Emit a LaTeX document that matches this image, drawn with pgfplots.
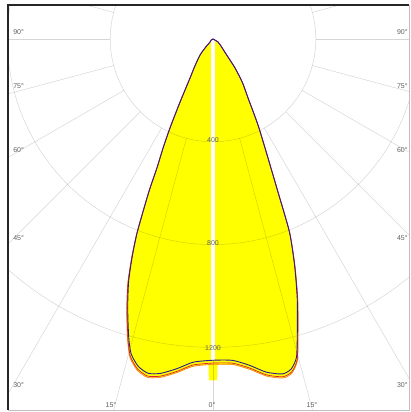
\documentclass[border=0pt]{standalone}
\usepackage{fontspec}
\setmainfont{Liberation Sans}
\usepackage{pgfplots}
\usepackage{pgfplotstable}
\pgfplotsset{compat=1.18}
\definecolor{lyellow}{RGB}{255,255,0}
\definecolor{navyc}{RGB}{45,30,140}
\definecolor{redc}{RGB}{225,30,40}
\definecolor{orangec}{RGB}{245,140,30}
\definecolor{labc}{RGB}{95,95,95}

% gamma (deg, negative = left half), intensity (cd)
\pgfplotstableread{
g I
-90 0
-60 8
-45 16
-41.6 47
-39 80
-34 125
-30.5 176
-27.6 277
-25.8 385
-24.6 467
-23.5 547
-22.9 630
-22.3 698
-21.4 808
-20.4 900
-19.2 998
-17.6 1098
-15.8 1205
-14.6 1265
-12.9 1306
-11.0 1325
-8.9 1317
-6.2 1290
-3.5 1260
0 1250
3.5 1253
6.4 1278
9.1 1313
11.7 1331
13.3 1320
14.7 1280
16.1 1183
18.0 1060
19.8 937
21.6 808
23.0 647
24.8 510
27.6 378
30.7 267
34 205
37.2 142
41 77
50 38
59 23
90 0
}\curveA

\pgfplotstableread{
g I
-90 0
-60 8
-45 16
-41.6 47
-39 80
-34 125
-30.5 176
-27.6 277
-25.8 385
-24.6 467
-23.5 547
-22.9 630
-22.3 698
-21.4 812
-20.4 906
-19.2 1006
-17.6 1107
-15.8 1215
-14.6 1276
-12.9 1317
-11.0 1336
-8.9 1328
-6.2 1301
-3.5 1271
0 1261
3.5 1264
6.4 1289
9.1 1324
11.7 1342
13.3 1331
14.7 1290
16.1 1191
18.0 1066
19.8 941
21.6 810
23.0 647
24.8 510
27.6 378
30.7 267
34 205
37.2 142
41 77
50 38
59 23
90 0
}\curveB

\pgfplotstableread{
g I
-90 0
-60 8
-45 16
-41.6 47
-39 80
-34 125
-30.5 176
-27.6 277
-25.8 385
-24.6 467
-23.5 547
-22.9 630
-22.3 698
-21.4 813
-20.4 908
-19.2 1009
-17.6 1111
-15.8 1220
-14.6 1281
-12.9 1322
-11.0 1341
-8.9 1333
-6.2 1306
-3.5 1276
0 1266
3.5 1269
6.4 1294
9.1 1329
11.7 1347
13.3 1336
14.7 1294
16.1 1193
18.0 1067
19.8 942
21.6 810
23.0 647
24.8 510
27.6 378
30.7 267
34 205
37.2 142
41 77
50 38
59 23
90 0
}\curveC

\pgfplotstableread{
g I
-90 0
-60 8
-45 16
-41.6 47
-39 80
-34 125
-30.5 176
-27.6 277
-25.8 385
-24.6 467
-23.5 547
-22.9 630
-22.3 698
-21.4 813
-20.4 908
-19.2 1009
-17.6 1111
-15.8 1220
-14.6 1281
-12.9 1322
-11.0 1341
-8.9 1333
-6.2 1306
-3.5 1276
-0.8 1267
-0.7 1328
0.7 1328
0.8 1267
3.5 1269
6.4 1294
9.1 1329
11.7 1347
13.3 1336
14.7 1294
16.1 1193
18.0 1067
19.8 942
21.6 810
23.0 647
24.8 510
27.6 378
30.7 267
34 205
37.2 142
41 77
50 38
59 23
90 0
}\fillC

\tikzset{gridl/.style={black, opacity=0.16, line width=0.5pt}}

\begin{document}
\begin{tikzpicture}
\begin{axis}[
  scale only axis, width=401pt, height=405pt,
  xmin=-797.7, xmax=762.6, ymin=-1443.6, ymax=132.3,
  hide axis,
  clip=true,
]
\addplot[fill=lyellow, draw=none, data cs=polar] table[x expr=\thisrow{g}+270, y=I] {\fillC} -- cycle;
\draw[gridl] (axis cs:0,0) circle[radius=400];
\draw[gridl] (axis cs:0,0) circle[radius=800];
\draw[gridl] (axis cs:0,0) circle[radius=1200];
\pgfplotsinvokeforeach{0,15,...,345}{
  \addplot[gridl, data cs=polar] coordinates {(#1,400) (#1,2400)};
}
\addplot[white, line width=4.5pt, data cs=polar] coordinates {(270,0) (270,1250)};
\addplot[orangec, line width=0.8pt, smooth, tension=0.4, data cs=polar] table[x expr=\thisrow{g}+270, y=I] {\curveC};
\addplot[redc, line width=0.7pt, smooth, tension=0.4, data cs=polar] table[x expr=\thisrow{g}+270, y=I] {\curveB};
\addplot[navyc, line width=0.9pt, smooth, tension=0.4, data cs=polar] table[x expr=\thisrow{g}+270, y=I] {\curveA};

\begin{scope}[font=\fontsize{7}{8}\selectfont, text=labc, inner sep=0pt]
\node[anchor=west] at (axis cs:-778,27) {90°};
\node[anchor=west] at (axis cs:-778,-183) {75°};
\node[anchor=west] at (axis cs:-778,-432) {60°};
\node[anchor=west] at (axis cs:-778,-774) {45°};
\node[anchor=west] at (axis cs:-778,-1346) {30°};
\node[anchor=east] at (axis cs:758,27) {90°};
\node[anchor=east] at (axis cs:758,-183) {75°};
\node[anchor=east] at (axis cs:758,-432) {60°};
\node[anchor=east] at (axis cs:758,-774) {45°};
\node[anchor=east] at (axis cs:758,-1346) {30°};
\node at (axis cs:-397,-1424) {15°};
\node at (axis cs:-4,-1424) {0°};
\node at (axis cs:385,-1424) {15°};
\node at (axis cs:0,-393) {400};
\node at (axis cs:0,-794) {800};
\node at (axis cs:0,-1202) {1200};
\end{scope}
\coordinate (nw) at (rel axis cs:0,1);
\coordinate (ne) at (rel axis cs:1,1);
\coordinate (sw) at (rel axis cs:0,0);
\coordinate (se) at (rel axis cs:1,0);
\end{axis}
\draw[black!85, line width=1.4pt] (sw) -- (nw) -- (ne);
\draw[black!25, line width=0.6pt] (ne) -- (se) -- (sw);
\path ([shift={(-8pt,5pt)}]nw) rectangle ([shift={(1pt,-2pt)}]se);
\end{tikzpicture}
\end{document}
